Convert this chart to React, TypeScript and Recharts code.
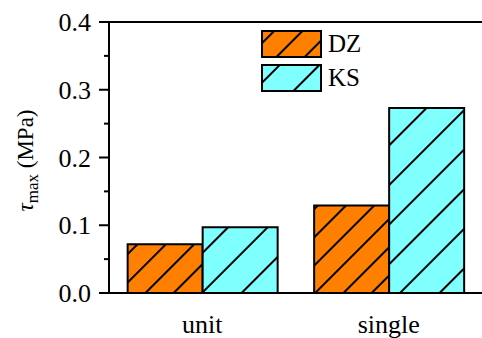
import React from "react";
import { Bar, BarChart, Legend, ReferenceLine, XAxis, YAxis } from "recharts";

const categories = ["unit", "single"];
const dzValues = [0.072, 0.129];
const ksValues = [0.097, 0.273];
const yTicks = [0, 0.05, 0.1, 0.15, 0.2, 0.25, 0.3, 0.35, 0.4];

const FONT = "'Liberation Serif', 'Times New Roman', serif";
const TICK_SIZE = 10;
const TICK_MARGIN = 4;

const data = categories.map((c, i) => ({ name: c, DZ: dzValues[i], KS: ksValues[i] }));

const Patterns = () => (
  <defs>
    <pattern id="hatchDZ" patternUnits="userSpaceOnUse" width={20} height={20} patternTransform="rotate(45)">
      <rect width={20} height={20} fill="#FF8000" />
      <line x1={10} y1={0} x2={10} y2={20} stroke="#000" strokeWidth={2} />
    </pattern>
    <pattern id="hatchKS" patternUnits="userSpaceOnUse" width={28} height={28} patternTransform="rotate(45)">
      <rect width={28} height={28} fill="#80FFFF" />
      <line x1={14} y1={0} x2={14} y2={28} stroke="#000" strokeWidth={2} />
    </pattern>
  </defs>
);

function YTick(props: any) {
  const { x, y, payload } = props;
  const v = payload.value as number;
  const major = Math.round(v * 100) % 10 === 0;
  const axisX = x + TICK_SIZE + TICK_MARGIN;
  return (
    <g>
      <line x1={axisX - (major ? TICK_SIZE : 5)} x2={axisX} y1={y} y2={y} stroke="#000" strokeWidth={2} />
      {major && (
        <text x={x - 4} y={y} dy={9} textAnchor="end" fontSize={26} fontFamily={FONT} fill="#000">
          {v.toFixed(1)}
        </text>
      )}
    </g>
  );
}

function XTick(props: any) {
  const { x, y, payload } = props;
  return (
    <text x={x} y={y} dy={32} textAnchor="middle" fontSize={26} fontFamily={FONT} fill="#000">
      {payload.value}
    </text>
  );
}

function YLabel(props: any) {
  const { viewBox } = props;
  const cx = viewBox.x + 33;
  const cy = viewBox.y + viewBox.height / 2 + 3;
  return (
    <text x={cx} y={cy} transform={`rotate(-90 ${cx} ${cy})`} textAnchor="middle" fontFamily={FONT} fontSize={23} fill="#000">
      <tspan fontStyle="italic">τ</tspan>
      <tspan fontSize={17} dy={5}>max</tspan>
      <tspan dy={-5}> (MPa)</tspan>
    </text>
  );
}

function LegendContent() {
  const items = [
    { key: "DZ", fill: "url(#hatchDZ)" },
    { key: "KS", fill: "url(#hatchKS)" },
  ];
  return (
    <div>
      {items.map((it) => (
        <div key={it.key} style={{ display: "flex", alignItems: "center", height: 34 }}>
          <svg width={62} height={28}>
            <rect x={1} y={1} width={59} height={26} fill={it.fill} stroke="#000" strokeWidth={2} />
          </svg>
          <span style={{ fontFamily: FONT, fontSize: 25, marginLeft: 5, color: "#000" }}>{it.key}</span>
        </div>
      ))}
    </div>
  );
}

export default function App() {
  return (
    <div style={{ position: "absolute", left: 0, top: 0, width: 482, height: 338, background: "#fff" }}>
      <BarChart
        width={482}
        height={338}
        data={data}
        margin={{ top: 22, right: 0, bottom: 0, left: 0 }}
        barCategoryGap="10%"
        barGap={0}
      >
        <Patterns />
        <XAxis
          dataKey="name"
          height={45}
          axisLine={{ stroke: "#000", strokeWidth: 2 }}
          tickLine={false}
          tick={<XTick />}
        />
        <YAxis
          width={109}
          domain={[0, 0.4]}
          ticks={yTicks}
          interval={0}
          tickSize={TICK_SIZE}
          tickMargin={TICK_MARGIN}
          tickLine={false}
          axisLine={{ stroke: "#000", strokeWidth: 2 }}
          tick={<YTick />}
          label={<YLabel />}
        />
        <ReferenceLine y={0.4} stroke="#000" strokeWidth={2} ifOverflow="visible" />
        <Legend
          layout="vertical"
          verticalAlign="middle"
          align="center"
          wrapperStyle={{ position: "absolute", top: 27, left: 261, width: 120 }}
          content={<LegendContent />}
        />
        <Bar dataKey="DZ" fill="url(#hatchDZ)" stroke="#000" strokeWidth={2} isAnimationActive={false} />
        <Bar dataKey="KS" fill="url(#hatchKS)" stroke="#000" strokeWidth={2} isAnimationActive={false} />
      </BarChart>
    </div>
  );
}
